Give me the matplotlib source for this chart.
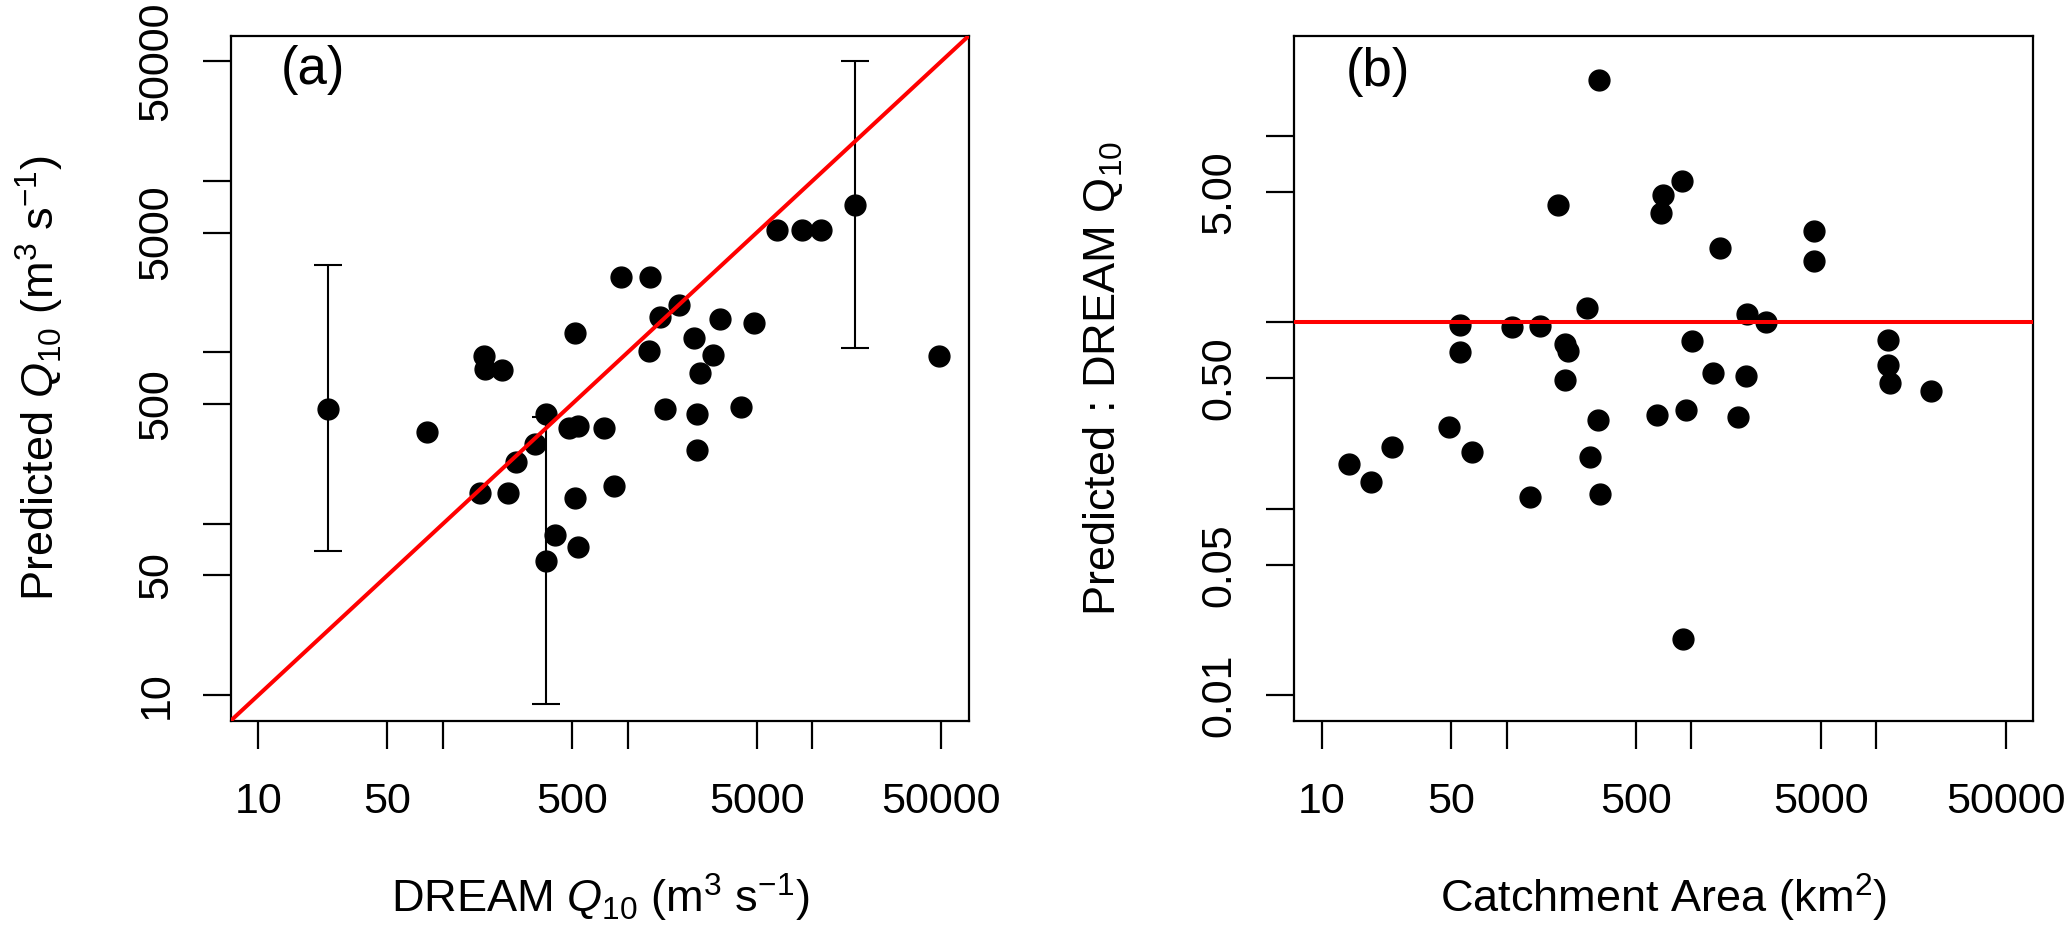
import matplotlib
matplotlib.use("Agg")
import matplotlib.pyplot as plt

plt.rcParams['font.family'] = ['Liberation Sans', 'DejaVu Sans']
plt.rcParams['mathtext.fontset'] = 'custom'
plt.rcParams['mathtext.rm'] = 'Liberation Sans'
plt.rcParams['mathtext.it'] = 'Liberation Sans:italic'
plt.rcParams['mathtext.bf'] = 'Liberation Sans:bold'

# panel (a): DREAM Q10 vs predicted Q10 (m3/s)
dream_q10 = [24, 81.8, 167.6, 169.4, 209.4, 158, 224, 248, 316, 361,
             361, 405, 538, 520, 483, 542, 520, 750, 840, 920,
             1330, 1897, 1490, 1303, 1600, 2285, 2383, 2383, 2903, 2470,
             3170, 4840, 4120, 6430, 8790, 11140, 17060, 48600]
pred_q10 = [471, 342, 951, 796, 789, 152, 152, 230, 292, 435,
            60.7, 85.7, 73.3, 141, 363, 372, 1291, 361, 167, 2760,
            2760, 1888, 1600, 1021, 465, 1216, 439, 269, 964, 764,
            1578, 1489, 482, 5165, 5165, 5165, 7260, 951]

# uncertainty bars (lower / upper bound)
err_x = [24, 361, 17060]
err_lo = [69.2, 8.9, 1064]
err_hi = [3230, 420, 50000]

# panel (b): catchment area vs ratio predicted : DREAM
area_km2 = [316, 190, 887, 700, 682, 1435, 273, 56.1, 107, 151,
            2000, 2541, 56.1, 208, 215, 1012, 208, 1310, 1982, 651,
            935, 1795, 313, 49.0, 23.9, 64.7, 14.1, 18.6, 282, 134,
            322, 901, 4600, 4600, 11500, 11500, 11900, 19800]
ratio = [19.9, 4.24, 5.73, 4.78, 3.84, 2.51, 1.19, 0.97, 0.945, 0.95,
         1.10, 1.0, 0.694, 0.760, 0.699, 0.791, 0.487, 0.536, 0.514, 0.318,
         0.340, 0.311, 0.298, 0.273, 0.213, 0.202, 0.173, 0.139, 0.190, 0.116,
         0.120, 0.020, 3.07, 2.12, 0.807, 0.589, 0.474, 0.430]

q_ticks = [10, 50, 100, 500, 1000, 5000, 10000, 50000]
q_labels = ['10', '50', '', '500', '', '5000', '', '50000']
r_ticks = [0.01, 0.05, 0.1, 0.5, 1, 5, 10]
r_labels = ['0.01', '0.05', '', '0.50', '', '5.00', '']

W, H = 2067, 927
fig = plt.figure(figsize=(W / 100, H / 100), dpi=100)
ax1 = fig.add_axes([230.7 / W, (H - 721) / H, (969 - 230.7) / W, 685 / H])
ax2 = fig.add_axes([1293.7 / W, (H - 721) / H, (2033 - 1293.7) / W, 685 / H])

fs = 31
lfs = 32.5


def style(ax, xt, xl, yt, yl):
    ax.set_xscale('log')
    ax.set_yscale('log')
    ax.minorticks_off()
    for s in ax.spines.values():
        s.set_linewidth(1.6)
    ax.tick_params(axis='both', length=20, width=1.6, labelsize=fs)
    ax.tick_params(axis='x', pad=24)
    ax.tick_params(axis='y', pad=19)
    ax.set_xticks(xt)
    ax.set_xticklabels(xl)
    ax.set_yticks(yt)
    ax.set_yticklabels(yl, rotation=90, va='center')


# (a)
style(ax1, q_ticks, q_labels, q_ticks, q_labels)
ax1.errorbar(err_x, err_lo, yerr=[[0] * len(err_x),
                                  [h - l for l, h in zip(err_lo, err_hi)]],
             fmt='none', ecolor='black', elinewidth=1.5, capsize=10, capthick=1.5)
ax1.plot(dream_q10, pred_q10, 'o', color='black', ms=15, zorder=3)
ax1.axline((10, 10), (1000, 1000), color='red', lw=2.9, zorder=4)
ax1.set_xlim(7.1, 70600)
ax1.set_ylim(7.08, 70200)
ax1.set_xlabel(r'DREAM $Q_{10}$ (m$^{3}$ s$^{-1}$)', fontsize=lfs, labelpad=36)
ax1.set_ylabel(r'Predicted $Q_{10}$ (m$^{3}$ s$^{-1}$)', fontsize=lfs, labelpad=51)
ax1.text(0.1115, 0.95, '(a)', transform=ax1.transAxes, fontsize=38,
         ha='center', va='center')

# (b)
style(ax2, q_ticks, q_labels, r_ticks, r_labels)
ax2.plot(area_km2, ratio, 'o', color='black', ms=15, zorder=3)
ax2.axhline(1, color='red', lw=2.9, zorder=4)
ax2.set_xlim(7.06, 70300)
ax2.set_ylim(0.00728, 34.2)
ax2.set_xlabel(r'Catchment Area (km$^{2}$)', fontsize=lfs, labelpad=36)
ax2.set_ylabel(r'Predicted : DREAM Q$_{10}$', fontsize=lfs, labelpad=54)
ax2.text(0.1134, 0.9474, '(b)', transform=ax2.transAxes, fontsize=38,
         ha='center', va='center')

fig.savefig('out.png', dpi=100)
